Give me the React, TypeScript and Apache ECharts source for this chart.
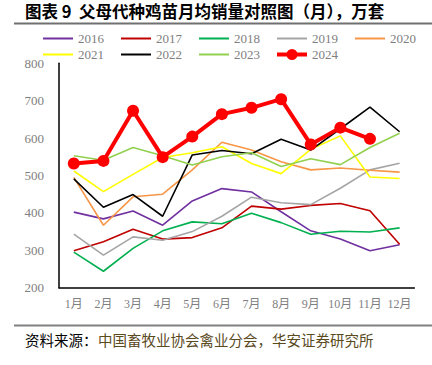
import React, { useEffect, useRef } from "react";
import * as echarts from "echarts";

const months = ["1月", "2月", "3月", "4月", "5月", "6月", "7月", "8月", "9月", "10月", "11月", "12月"];
const s2016 = [402, 384, 405, 367, 432, 465, 456, 403, 352, 330, 299, 315];
const s2017 = [299, 323, 356, 330, 334, 360, 418, 410, 420, 425, 406, 316];
const s2018 = [295, 244, 305, 352, 376, 371, 399, 374, 343, 351, 349, 360];
const s2019 = [343, 287, 336, 327, 350, 391, 442, 427, 422, 466, 515, 533];
const s2020 = [495, 367, 443, 450, 515, 589, 568, 537, 515, 520, 514, 509];
const s2021 = [512, 457, 503, 548, 561, 577, 532, 505, 570, 606, 496, 492];
const s2022 = [491, 415, 449, 391, 555, 567, 558, 597, 568, 625, 683, 617];
const s2023 = [553, 541, 575, 553, 528, 550, 561, 524, 545, 529, 575, 613];
const s2024 = [532, 539, 673, 549, 604, 664, 681, 704, 583, 628, 598];

const seriesDefs = [
  { name: "2016", data: s2016, color: "#7030A0" },
  { name: "2017", data: s2017, color: "#C00000" },
  { name: "2018", data: s2018, color: "#00B050" },
  { name: "2019", data: s2019, color: "#A5A5A5" },
  { name: "2020", data: s2020, color: "#F79646" },
  { name: "2021", data: s2021, color: "#FFFF00" },
  { name: "2022", data: s2022, color: "#000000" },
  { name: "2023", data: s2023, color: "#92D050" },
];

const serif = "'Liberation Serif', 'Times New Roman', 'Noto Sans CJK SC', serif";
const thinIcon = "path://M0,0 L30,0 L30,2 L0,2 Z";
const boldIcon =
  "path://M0,5 L30,5 L30,9 L0,9 Z M15,1.5 A5.5,5.5 0 1,1 15,12.5 A5.5,5.5 0 1,1 15,1.5 Z";

export default function App() {
  const ref = useRef<HTMLDivElement>(null);
  useEffect(() => {
    document.body.style.margin = "0";
    const chart = echarts.init(ref.current!, null, { renderer: "svg" });
    const legendCommon = {
      itemWidth: 30,
      itemHeight: 14,
      itemGap: 17,
      textStyle: { color: "#808080", fontSize: 13, fontFamily: serif },
      left: 38,
    };
    chart.setOption({
      animation: false,
      backgroundColor: "#ffffff",
      legend: [
        {
          ...legendCommon,
          top: 27,
          data: ["2016", "2017", "2018", "2019", "2020"].map((n) => ({ name: n, icon: thinIcon })),
        },
        {
          ...legendCommon,
          top: 43,
          data: [
            ...["2021", "2022", "2023"].map((n) => ({ name: n, icon: thinIcon })),
            { name: "2024", icon: boldIcon },
          ],
        },
      ],
      grid: { left: 59, right: 17.6, top: 63.3, bottom: 77.3, containLabel: false },
      xAxis: {
        type: "category",
        data: months,
        boundaryGap: true,
        axisLine: { lineStyle: { color: "#000000", width: 1.5 } },
        axisTick: { show: false },
        axisLabel: { color: "#808080", fontSize: 12, fontFamily: serif, margin: 10, interval: 0 },
      },
      yAxis: {
        type: "value",
        min: 200,
        max: 800,
        interval: 100,
        splitLine: { show: false },
        axisLine: { show: true, lineStyle: { color: "#000000", width: 1.5 } },
        axisTick: { show: false },
        axisLabel: { color: "#808080", fontSize: 13, fontFamily: serif, margin: 15 },
      },
      series: [
        ...seriesDefs.map((s) => ({
          name: s.name,
          type: "line",
          data: s.data,
          color: s.color,
          symbol: "none",
          lineStyle: { width: 1.6, color: s.color },
        })),
        {
          name: "2024",
          type: "line",
          data: s2024,
          color: "#FF0000",
          symbol: "circle",
          symbolSize: 12,
          lineStyle: { width: 4, color: "#FF0000" },
          itemStyle: { color: "#FF0000" },
          z: 10,
        },
      ],
      graphic: [
        {
          type: "text",
          left: 25,
          top: 3,
          style: {
            text: "图表 9  父母代种鸡苗月均销量对照图（月），万套",
            fontSize: 16.5,
            fontWeight: "bold",
            fontFamily: "'Noto Sans CJK SC', sans-serif",
            fill: "#000000",
          },
        },
        {
          type: "line",
          shape: { x1: 14, y1: 23.5, x2: 432, y2: 23.5 },
          style: { stroke: "#707070", lineWidth: 2 },
        },
        {
          type: "line",
          shape: { x1: 14, y1: 325.5, x2: 432, y2: 325.5 },
          style: { stroke: "#808080", lineWidth: 2 },
        },
        {
          type: "text",
          left: 25,
          top: 332,
          style: {
            text: "资料来源：",
            fontSize: 14.5,
            fontFamily: "'Noto Sans CJK SC', sans-serif",
            fill: "#000000",
          },
        },
        {
          type: "text",
          left: 98,
          top: 332,
          style: {
            text: "中国畜牧业协会禽业分会，华安证券研究所",
            fontSize: 14.5,
            fontFamily: "'Noto Sans CJK SC', sans-serif",
            fill: "#5a4a1e",
          },
        },
      ],
    });
    return () => chart.dispose();
  }, []);
  return <div ref={ref} style={{ width: 432, height: 365 }} />;
}
